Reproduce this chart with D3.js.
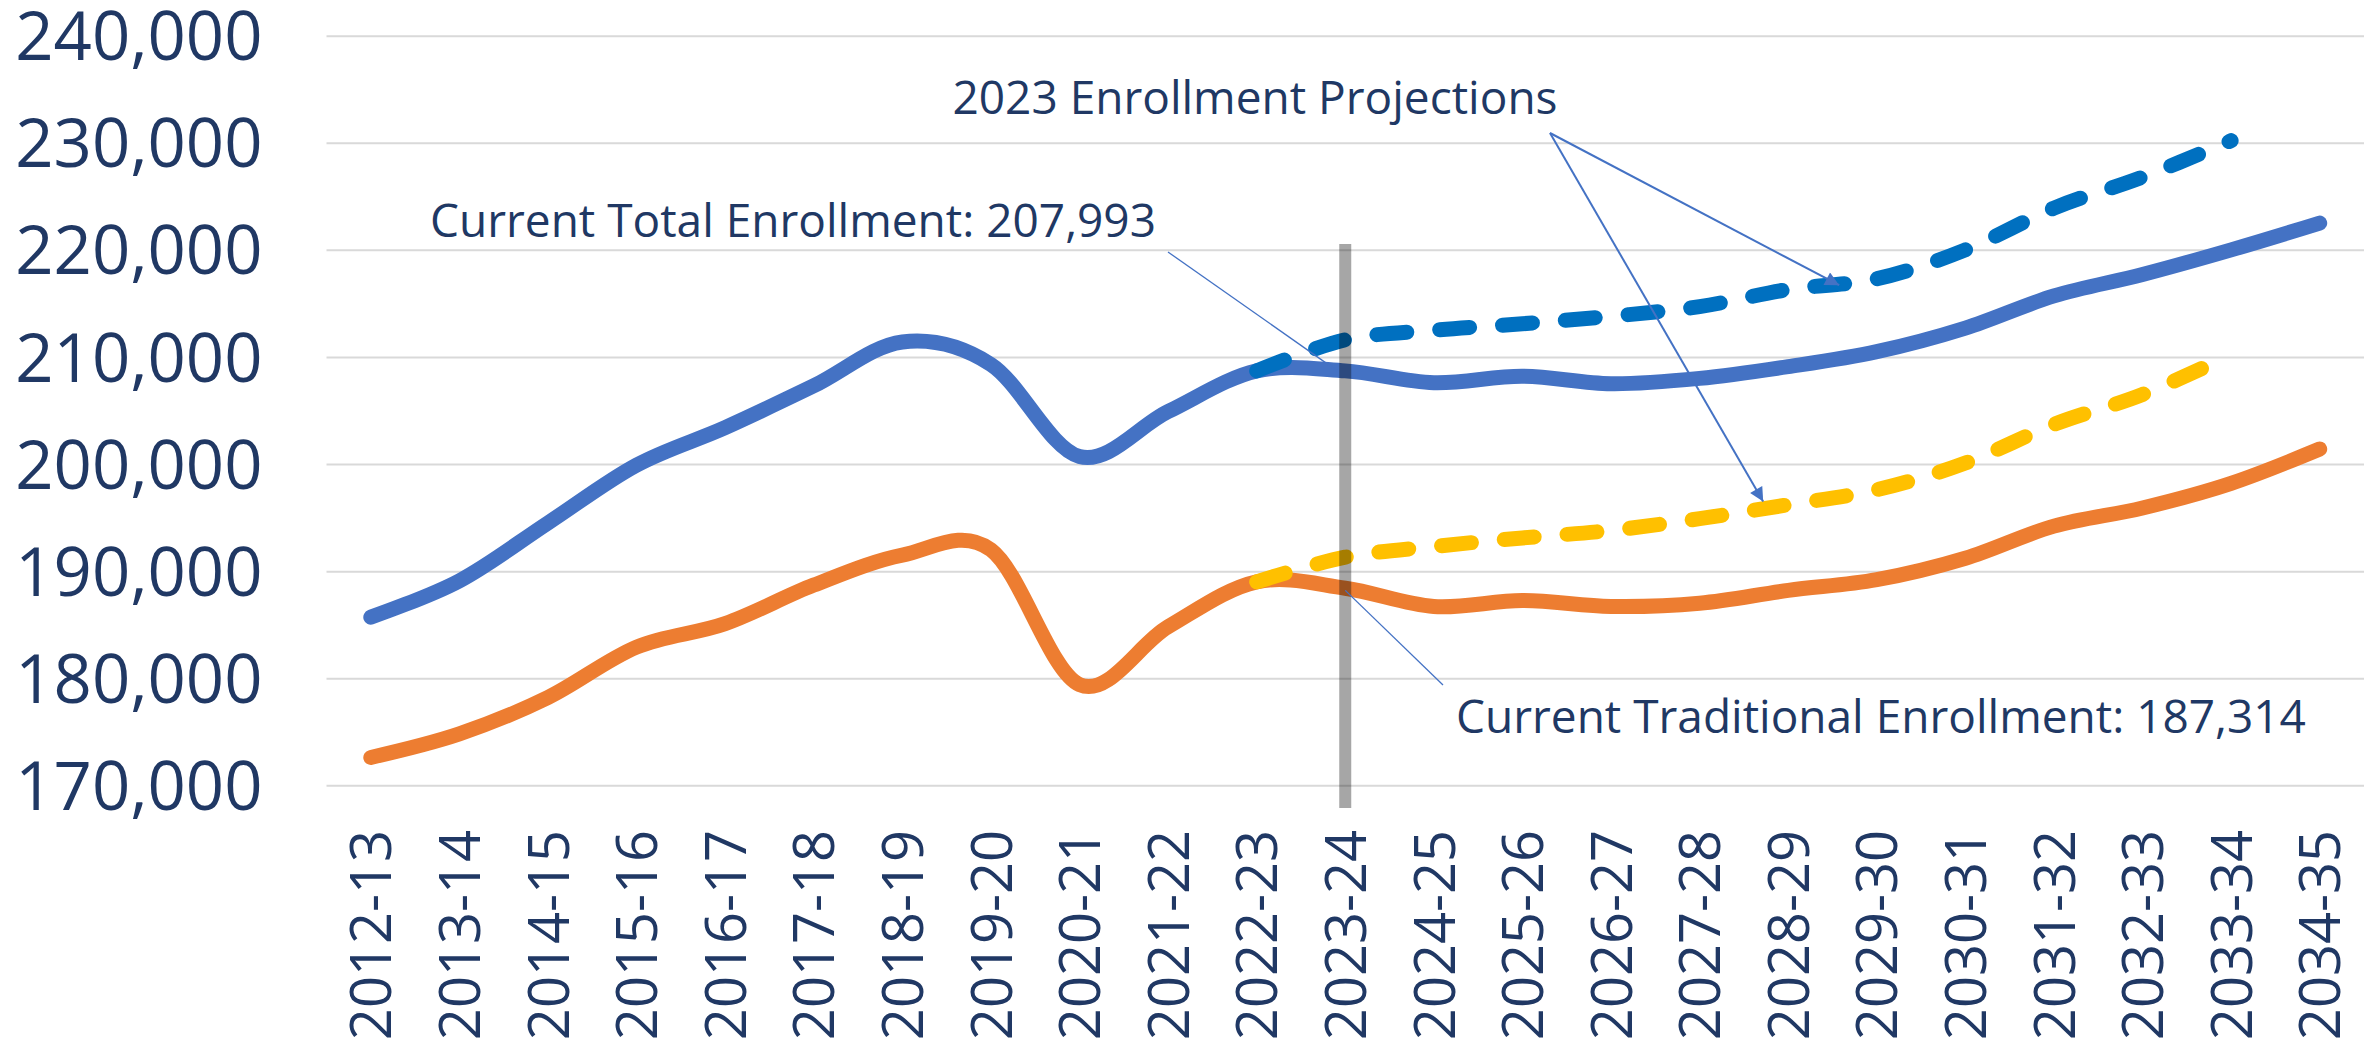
<!DOCTYPE html>
<meta charset="utf-8">
<head>
<script src="https://cdnjs.cloudflare.com/ajax/libs/d3/7.8.5/d3.min.js"></script>
<style>
body {
  margin: 0;
  background: #ffffff;
}
svg {
  display: block;
}
svg text {
  font-family: "Open Sans", "Noto Sans", sans-serif;
  fill: #203864;
}
</style>
</head>
<body>
<div id="chart"></div>

<script>

// school years on the x axis
var years = ['2012-13', '2013-14', '2014-15', '2015-16', '2016-17', '2017-18', '2018-19',
             '2019-20', '2020-21', '2021-22', '2022-23', '2023-24', '2024-25', '2025-26',
             '2026-27', '2027-28', '2028-29', '2029-30', '2030-31', '2031-32', '2032-33',
             '2033-34', '2034-35'];

// current projections (solid lines)
var totalEnrollment = [185700, 189100, 194500, 199900, 203400, 207300, 211400, 209300, 200700,
                       204900, 208700, 208700, 207600, 208200, 207500, 208000, 209100, 210500,
                       212700, 215700, 217700, 220000, 222500];
var traditionalEnrollment = [172600, 174800, 178200, 182900, 185100, 188700, 191500, 192000, 179400,
                             184800, 189000, 188400, 186700, 187250, 186700, 187000, 188200, 189200,
                             191200, 194200, 195900, 198200, 201400];

// 2023 projections (dashed lines), 2022-23 to 2033-34
var projYears = years.slice(10, 22);
var totalProjection2023 = [208700, 211600, 212500, 213100, 213800, 214700, 216300, 217300,
                           220000, 223900, 226800, 230200];
var traditionalProjection2023 = [189000, 191300, 192300, 193100, 193800, 194900, 196200, 197600,
                                 200100, 203700, 206500, 210200];

var yTicks = [170000, 180000, 190000, 200000, 210000, 220000, 230000, 240000];
var currentYear = '2023-24';

var labelProjections = '2023 Enrollment Projections';
var labelTotal = 'Current Total Enrollment: 207,993';
var labelTraditional = 'Current Traditional Enrollment: 187,314';

var width = 2364;
var height = 1044;
var plotLeft = 326.5, plotRight = 2364, plotTop = 35.7, plotBottom = 785.3;

var svg = d3.select('#chart').append('svg')
            .attr('width', width)
            .attr('height', height);

var x = d3.scalePoint().domain(years).range([plotLeft, plotRight]).padding(0.5);
var y = d3.scaleLinear().domain([170000, 240000]).range([plotBottom, plotTop]);

// gridlines
svg.append('g')
   .attr('transform', 'translate(' + plotLeft + ',0)')
   .call(d3.axisLeft(y).tickValues(yTicks).tickSize(-(plotRight - plotLeft)).tickFormat(''))
   .call(function(g){ g.select('.domain').remove(); })
   .selectAll('line')
   .style('stroke', '#d9d9d9')
   .style('stroke-width', 2);

// y axis labels
var yAxis = svg.append('g')
   .attr('transform', 'translate(' + plotLeft + ',0)')
   .call(d3.axisLeft(y).tickValues(yTicks).tickSize(0).tickPadding(64).tickFormat(d3.format(',')));
yAxis.attr('font-family', null);
yAxis.select('.domain').remove();
yAxis.selectAll('text')
     .attr('dy', '0.36em')
     .style('font-size', '67px');

// x axis labels
var xAxis = svg.append('g')
   .attr('transform', 'translate(0,' + plotBottom + ')')
   .call(d3.axisBottom(x).tickSize(0));
xAxis.attr('font-family', null);
xAxis.select('.domain').remove();
xAxis.selectAll('text')
     .attr('transform', 'rotate(-90)')
     .attr('x', -(830 - plotBottom))
     .attr('y', 0)
     .attr('dy', '0.36em')
     .style('text-anchor', 'end')
     .style('font-size', '56px');

var line = d3.line()
             .x(function(d){ return x(d.year); })
             .y(function(d){ return y(d.value); })
             .curve(d3.curveCardinal.tension(0));

function pairs(yrs, vals){
  return yrs.map(function(d, i){ return {year: d, value: vals[i]}; });
}

var series = [
  {data: pairs(years, totalEnrollment), color: '#4472c4', dash: null},
  {data: pairs(years, traditionalEnrollment), color: '#ed7d31', dash: null},
  {data: pairs(projYears, totalProjection2023), color: '#0070c0', dash: '30,33'},
  {data: pairs(projYears, traditionalProjection2023), color: '#ffc000', dash: '30,33'}
];

svg.selectAll('.series')
   .data(series)
   .enter()
   .append('path')
   .attr('class', 'series')
   .attr('d', function(d){ return line(d.data); })
   .style('fill', 'none')
   .style('stroke', function(d){ return d.color; })
   .style('stroke-width', 15)
   .style('stroke-linecap', 'round')
   .style('stroke-linejoin', 'round')
   .style('stroke-dasharray', function(d){ return d.dash; });

// marker for the current year
svg.append('rect')
   .attr('x', x(currentYear) - 6)
   .attr('y', 244)
   .attr('width', 12)
   .attr('height', 808 - 244)
   .style('fill', '#000')
   .style('fill-opacity', 0.35);

// callouts
svg.append('defs').append('marker')
   .attr('id', 'arrow')
   .attr('viewBox', '0 0 10 10')
   .attr('refX', 10)
   .attr('refY', 5)
   .attr('markerWidth', 8)
   .attr('markerHeight', 7)
   .attr('markerUnits', 'strokeWidth')
   .attr('orient', 'auto')
   .append('path')
   .attr('d', 'M0,0 L10,5 L0,10 Z')
   .style('fill', '#4472c4');

var callouts = [
  {x1: 1550, y1: 133, x2: x('2028-29') + 51, y2: y(216700), w: 2, arrow: true},
  {x1: 1550, y1: 133, x2: x('2028-29') - 25, y2: y(196500), w: 2, arrow: true},
  {x1: 1168, y1: 252, x2: x(currentYear) - 8, y2: y(208700), w: 1.3, arrow: false},
  {x1: x(currentYear), y1: y(188200), x2: 1443, y2: 685, w: 1.3, arrow: false}
];

svg.selectAll('.callout')
   .data(callouts)
   .enter()
   .append('line')
   .attr('class', 'callout')
   .attr('x1', function(d){ return d.x1; })
   .attr('y1', function(d){ return d.y1; })
   .attr('x2', function(d){ return d.x2; })
   .attr('y2', function(d){ return d.y2; })
   .style('stroke', '#4472c4')
   .style('stroke-width', function(d){ return d.w; })
   .attr('marker-end', function(d){ return d.arrow ? 'url(#arrow)' : null; });

var notes = [
  {text: labelProjections, x: 1255, y: 114},
  {text: labelTotal, x: 793, y: 237},
  {text: labelTraditional, x: 1881, y: 733}
];

svg.selectAll('.note')
   .data(notes)
   .enter()
   .append('text')
   .attr('class', 'note')
   .attr('x', function(d){ return d.x; })
   .attr('y', function(d){ return d.y; })
   .style('text-anchor', 'middle')
   .style('font-size', '46px')
   .text(function(d){ return d.text; });

</script>
</body>
